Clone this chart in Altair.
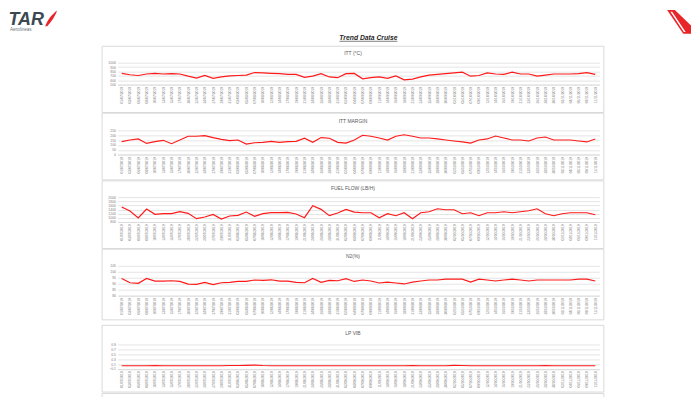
import altair as alt
import pandas as pd

# ---------------- data ----------------
dates = [
    "01/07/2019", "03/07/2019", "06/07/2019", "08/07/2019", "10/07/2019", "13/07/2019", "15/07/2019", "17/07/2019", "20/07/2019", "22/07/2019",
    "24/07/2019", "27/07/2019", "29/07/2019", "31/07/2019", "03/08/2019", "05/08/2019", "07/08/2019", "10/08/2019", "12/08/2019", "14/08/2019",
    "17/08/2019", "19/08/2019", "21/08/2019", "24/08/2019", "26/08/2019", "28/08/2019", "31/08/2019", "02/09/2019", "04/09/2019", "07/09/2019",
    "09/09/2019", "11/09/2019", "14/09/2019", "16/09/2019", "18/09/2019", "21/09/2019", "23/09/2019", "25/09/2019", "28/09/2019", "30/09/2019",
    "02/10/2019", "05/10/2019", "07/10/2019", "09/10/2019", "12/10/2019", "14/10/2019", "16/10/2019", "19/10/2019", "21/10/2019", "23/10/2019",
    "26/10/2019", "28/10/2019", "30/10/2019", "02/11/2019", "04/11/2019", "06/11/2019", "09/11/2019", "11/11/2019",
]

itt = [758, 725, 708, 742, 758, 742, 750, 742, 692, 650,
       708, 642, 675, 700, 708, 717, 775, 767, 758, 750,
       733, 733, 667, 692, 750, 675, 658, 750, 755, 633,
       658, 675, 642, 700, 608, 625, 675, 717, 733, 750,
       767, 783, 692, 708, 767, 742, 733, 783, 742, 742,
       692, 717, 742, 742, 742, 750, 775, 733]

itt_margin = [134, 151, 162, 116, 134, 148, 113, 151, 190, 190,
              197, 176, 158, 144, 151, 109, 123, 127, 137, 127,
              134, 137, 169, 127, 176, 169, 127, 120, 151, 200,
              190, 172, 151, 190, 205, 190, 172, 172, 162, 151,
              141, 131, 120, 151, 162, 192, 172, 151, 151, 141,
              172, 182, 151, 151, 151, 141, 131, 162]

fuel_flow = [1520, 1328, 992, 1424, 1168, 1200, 1200, 1296, 1216, 960,
             1040, 1168, 944, 1088, 1120, 1280, 1072, 1200, 1248, 1248,
             1264, 1184, 1008, 1584, 1408, 1104, 1232, 1408, 1280, 1246,
             1246, 1006, 1198, 1102, 1246, 958, 1246, 1294, 1438, 1390,
             1390, 1198, 1246, 1102, 1246, 1246, 1294, 1246, 1294, 1342,
             1438, 1198, 1102, 1198, 1246, 1246, 1246, 1150]

n2 = [94.4, 90.8, 90.3, 94.4, 92.2, 92.2, 92.5, 91.9, 89.7, 89.4,
      91.1, 89.2, 90.8, 91.1, 91.9, 91.9, 93.1, 92.8, 93.3, 92.2,
      92.2, 91.1, 90.8, 94.4, 91.1, 92.8, 92.5, 94.2, 91.9, 93.1,
      92.3, 90.6, 91.4, 90.6, 89.8, 91.4, 92.3, 93.1, 93.1, 93.9,
      93.9, 93.9, 91.4, 93.9, 93.1, 92.3, 93.1, 93.9, 93.1, 92.3,
      93.1, 93.1, 93.1, 93.1, 93.1, 93.9, 93.9, 92.3]

lp_vib = [0.03, 0.03, 0.03, 0.03, 0.04, 0.03, 0.03, 0.03, 0.03, 0.03,
          0.03, 0.03, 0.03, 0.04, 0.04, 0.05, 0.06, 0.04, 0.03, 0.03,
          0.03, 0.03, 0.03, 0.03, 0.03, 0.03, 0.03, 0.03, 0.03, 0.03,
          0.03, 0.03, 0.03, 0.03, 0.03, 0.04, 0.03, 0.03, 0.03, 0.03,
          0.05, 0.04, 0.03, 0.03, 0.03, 0.03, 0.03, 0.03, 0.03, 0.03,
          0.03, 0.04, 0.03, 0.03, 0.03, 0.03, 0.03, 0.03]

panel_titles = ["ITT (°C)", "ITT MARGIN", "FUEL FLOW (LB/H)", "N2(%)", "LP VIB", "HP VIB"]
itt_ticks = [500, 600, 700, 800, 900, 1000]
margin_ticks = [0, 50, 100, 150, 200, 250]
fuel_ticks = [800, 1000, 1200, 1400, 1600, 1800, 2000]
n2_ticks = [80, 85, 90, 95, 100, 105]
vib_ticks = [-0.1, 0.1, 0.3, 0.5, 0.7, 0.9]

page_title = "Trend Data Cruise"
logo_text = "TAR"
logo_sub = "Aerolineas"

# ---------------- layout (page pixels) ----------------
FONT = "Liberation Sans"
PLOT_L, PLOT_R = 116, 600          # every row's origin sits at page x = PLOT_L
BOX_L, BOX_R = 100.5, 604.5
PAGE_L, PAGE_R = 8, 692
GRID = "#d9d9d9"
LABEL = "#808080"
W = PLOT_R - PLOT_L

one = pd.DataFrame({"k": [0]})


def frame(ox, oy, box, title, title_y):
    base = alt.Chart(one)
    left_edge = base.mark_rect(opacity=0).encode(     # keeps the page's left margin
        x=alt.value(PAGE_L - ox), x2=alt.value(PAGE_L - ox + 1),
        y=alt.value(0), y2=alt.value(1))
    box_rect = base.mark_rect(fill="transparent", stroke=GRID, strokeWidth=1).encode(
        x=alt.value(BOX_L - ox), x2=alt.value(BOX_R - ox),
        y=alt.value(box[0] - oy), y2=alt.value(box[1] - oy))
    title_txt = base.mark_text(text=title, fontSize=5, font=FONT, color="#595959",
                               align="center", baseline="middle").encode(
        x=alt.value(352.5 - ox), y=alt.value(title_y - oy))
    return [left_edge, box_rect, title_txt]


def panel(values, title, ticks, fmt, box, plot, title_y):
    ox, oy = PLOT_L, plot[0]
    h = plot[1] - plot[0]
    df = pd.DataFrame({"Date": dates, "Value": values})
    line = alt.Chart(df).mark_line(color="#ff1a1a", strokeWidth=1.2).encode(
        x=alt.X("Date:N", sort=dates,
                scale=alt.Scale(type="point", padding=0.5),
                axis=alt.Axis(title=None, labelAngle=-90, labelFontSize=3.3, labelFont=FONT,
                              labelColor=LABEL, ticks=False, domainColor=GRID, domainWidth=0.8,
                              grid=False, labelPadding=2, labelOverlap=False)),
        y=alt.Y("Value:Q",
                scale=alt.Scale(domain=[ticks[0], ticks[-1]], nice=False, zero=False),
                axis=alt.Axis(title=None, values=ticks, format=fmt, labelFontSize=3.5,
                              labelFont=FONT, labelColor=LABEL, domain=False, ticks=False,
                              gridColor=GRID, gridWidth=0.7, labelPadding=2)))
    return alt.layer(*frame(ox, oy, box, title, title_y), line).properties(width=W, height=h)


def spacer(h):
    return alt.Chart(one).mark_rect(opacity=0).encode(
        x=alt.value(0), x2=alt.value(1), y=alt.value(0), y2=alt.value(1)
    ).properties(width=W, height=h)


# plot areas (page y): top, bottom
P1 = (61, 83)
P2 = (128.3, 152.7)
P3 = (194.3, 219.3)
P4 = (262.7, 292.7)
P5 = (341.7, 366.3)

# header: origin at page (PLOT_L, 8), runs down to the first plot area
HX, HY = PLOT_L, 8
hb = alt.Chart(one)
header = alt.layer(
    hb.mark_rect(opacity=0).encode(x=alt.value(PAGE_L - HX), x2=alt.value(PAGE_L - HX + 1),
                                   y=alt.value(0), y2=alt.value(1)),
    hb.mark_text(text=logo_text, font=FONT, fontSize=18, fontWeight="bold", fontStyle="italic",
                 color="#3b4852", align="left", baseline="top").encode(
        x=alt.value(6.5 - HX), y=alt.value(9 - HY)),
    hb.mark_text(text=logo_sub, font=FONT, fontSize=4.6, color="#6d747a",
                 align="left", baseline="middle").encode(x=alt.value(8 - HX), y=alt.value(28 - HY)),
    hb.mark_point(shape="M -0.7 1 C -0.5 0.3 0.1 -0.5 0.8 -1 C 0.6 -0.4 0.1 0.4 -0.45 1 Z",
                  filled=True, color="#e8262a", opacity=1, size=256).encode(
        x=alt.value(49 - HX), y=alt.value(16.5 - HY)),
    hb.mark_point(shape="M -1 -1 L -0.35 -1 L 1 0.3 L 1 1 L 0.35 1 Z",
                  filled=True, color="#e8262a", opacity=1, size=576).encode(
        x=alt.value(680 - HX), y=alt.value(20 - HY)),
    hb.mark_point(shape="M -0.72 -0.85 L -0.58 -0.85 L 0.55 0.85 L 0.4 0.85 Z",
                  filled=True, color="#ffffff", opacity=1, size=576).encode(
        x=alt.value(680 - HX), y=alt.value(20 - HY)),
    hb.mark_text(text=page_title, font=FONT, fontSize=6.8, fontWeight="bold", fontStyle="italic",
                 color="#262626", align="center", baseline="middle").encode(
        x=alt.value(368 - HX), y=alt.value(36 - HY)),
    hb.mark_rule(color="#262626", strokeWidth=0.6).encode(
        x=alt.value(339 - HX), x2=alt.value(397 - HX), y=alt.value(39.5 - HY)),
).properties(width=W, height=P1[0] - HY)

p1 = panel(itt, panel_titles[0], itt_ticks, "d", (44.5, 111), P1, 51.5)
p2 = panel(itt_margin, panel_titles[1], margin_ticks, "d", (111, 178), P2, 118.5)
p3 = panel(fuel_flow, panel_titles[2], fuel_ticks, "d", (178, 246), P3, 185)
p4 = panel(n2, panel_titles[3], n2_ticks, "d", (246, 317), P4, 253.3)
p5 = panel(lp_vib, panel_titles[4], vib_ticks, ".1f", (322.5, 389.5), P5, 330)

# last panel: only its top edge and title are inside the window
p6 = alt.layer(*frame(PLOT_L, P5[1], (390.5, 430), panel_titles[5], 396)
               ).properties(width=W, height=397 - P5[1])

rows = [header, p1, spacer(P2[0] - P1[1]), p2, spacer(P3[0] - P2[1]), p3,
        spacer(P4[0] - P3[1]), p4, spacer(P5[0] - P4[1]), p5, p6]

chart = alt.vconcat(*rows, spacing=0, bounds="flush").properties(
    padding=0, background="white"
).configure_view(stroke="transparent")

chart.save("out.html", embed_options={"renderer": "svg", "actions": False})
